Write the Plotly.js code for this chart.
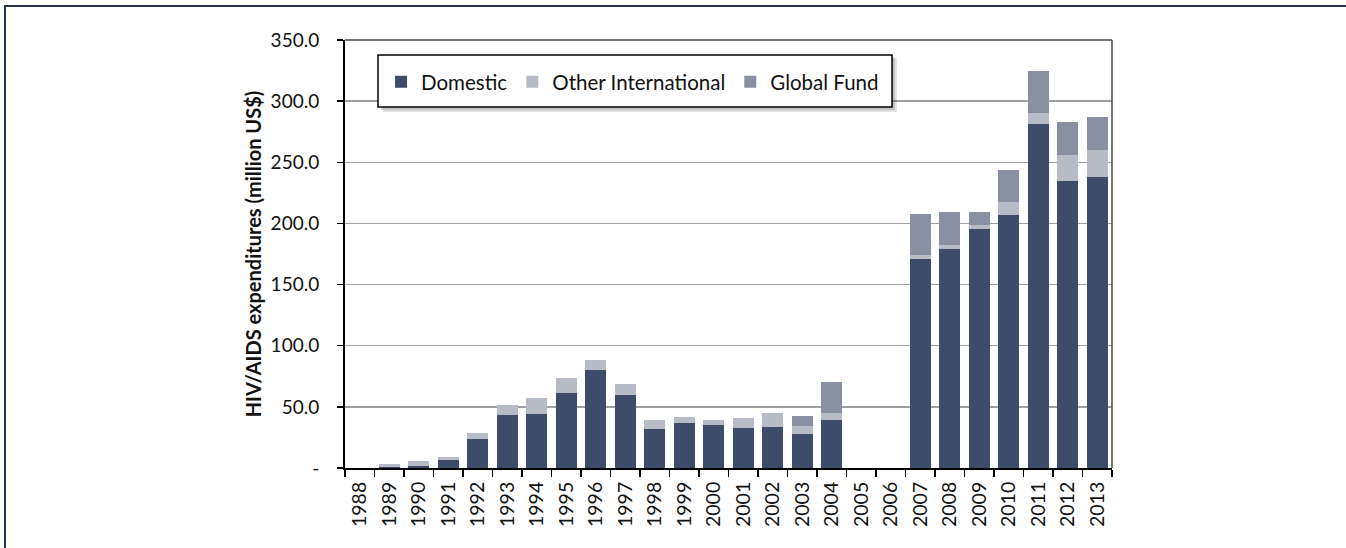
<!DOCTYPE html>
<html>
<head>
<meta charset="utf-8">
<script src="https://cdn.plot.ly/plotly-3.0.1.min.js"></script>
<style>
  html, body { margin: 0; padding: 0; background: #ffffff; }
  #wrap { position: relative; width: 1346px; height: 548px; overflow: hidden; }
  #frame { position: absolute; left: 4px; top: 5px; width: 1400px; height: 600px;
           border-left: 2px solid #24344F; border-top: 2px solid #24344F; box-sizing: border-box; pointer-events: none; }
  #chart { position: absolute; left: 0; top: 0; width: 1346px; height: 548px; }
</style>
</head>
<body>
<div id="wrap">
  <div id="chart"></div>
  <div id="frame"></div>
</div>
<script>
const years = ["1988","1989","1990","1991","1992","1993","1994","1995","1996","1997","1998","1999","2000",
               "2001","2002","2003","2004","2005","2006","2007","2008","2009","2010","2011","2012","2013"];
const domestic = [0, 0.5, 2, 6.5, 24, 43.5, 44.5, 61.5, 80.5, 60, 32, 37, 35.5,
                  32.7, 33.3, 28, 39.5, 0, 0, 171, 179, 195.7, 207, 281, 235, 238];
const otherInternational = [0, 3, 4, 2.5, 4.5, 8, 12.5, 12.5, 8, 9, 7, 5, 3.5,
                  8, 11.4, 6.5, 5.5, 0, 0, 3, 3.5, 3, 10.5, 9, 21, 22];
const globalFund = [0, 0, 0, 0, 0, 0, 0, 0, 0, 0, 0, 0, 0,
                  0, 0, 8, 25, 0, 0, 33.5, 27, 11, 26, 35, 27, 27];
const yTickVals = [0, 50, 100, 150, 200, 250, 300, 350];
const yTickText = ["-", "50.0", "100.0", "150.0", "200.0", "250.0", "300.0", "350.0"];

const FONT = "Lato, 'Open Sans', sans-serif";

const traces = [
  { type: "bar", name: "Domestic", x: years, y: domestic, marker: { color: "#3D4D69" } },
  { type: "bar", name: "Other International", x: years, y: otherInternational, marker: { color: "#B7BBC5" } },
  { type: "bar", name: "Global Fund", x: years, y: globalFund, marker: { color: "#8990A1" } }
];

const layout = {
  width: 1346, height: 548,
  paper_bgcolor: "rgba(0,0,0,0)", plot_bgcolor: "#ffffff",
  margin: { l: 345, r: 234, t: 40, b: 80, pad: 0 },
  barmode: "stack",
  bargap: 0.29,
  font: { family: FONT, color: "#111111" },
  showlegend: true,
  legend: {
    orientation: "h", x: 0.047, y: 0.902, xanchor: "left", yanchor: "middle",
    bgcolor: "rgba(0,0,0,0)", borderwidth: 0,
    font: { family: FONT, size: 20.5, color: "#111111" },
    traceorder: "normal"
  },
  xaxis: {
    type: "category",
    tickangle: -90,
    tickson: "boundaries",
    ticks: "outside", ticklen: 7, tickwidth: 1.5, tickcolor: "#000000",
    ticklabelstandoff: 4,
    showline: true, linecolor: "#000000", linewidth: 2,
    showgrid: false, zeroline: false,
    tickfont: { family: FONT, size: 19.5, color: "#111111" },
    fixedrange: true
  },
  yaxis: {
    range: [0, 350],
    tickvals: yTickVals, ticktext: yTickText,
    ticks: "outside", ticklen: 6, tickwidth: 1.5, tickcolor: "#000000",
    ticklabelstandoff: 14,
    showline: true, linecolor: "#000000", linewidth: 2,
    showgrid: true, gridcolor: "#9f9f9f", gridwidth: 1.5,
    zeroline: false,
    tickfont: { family: FONT, size: 19, color: "#111111" },
    title: { text: "<b>HIV/AIDS expenditures (million US$)</b>", font: { family: FONT, size: 20, color: "#111111" }, standoff: 4 },
    fixedrange: true
  },
  shapes: [
    { type: "line", xref: "paper", yref: "paper", x0: 0, x1: 1, y0: 1, y1: 1, line: { color: "#4a4a4a", width: 1.5 }, layer: "above" },
    { type: "line", xref: "paper", yref: "paper", x0: 1, x1: 1, y0: 0, y1: 1, line: { color: "#4a4a4a", width: 1.5 }, layer: "above" },
    { type: "rect", xref: "paper", yref: "paper", x0: 0.0495, x1: 0.7197, y0: 0.8315, y1: 0.9560, fillcolor: "rgba(0,0,0,0.10)", line: { width: 0 }, layer: "above" },
    { type: "rect", xref: "paper", yref: "paper", x0: 0.0470, x1: 0.7172, y0: 0.8360, y1: 0.9600, fillcolor: "rgba(0,0,0,0.15)", line: { width: 0 }, layer: "above" },
    { type: "rect", xref: "paper", yref: "paper", x0: 0.0430, x1: 0.7132, y0: 0.8435, y1: 0.9650, fillcolor: "#ffffff", line: { color: "#000000", width: 1.5 }, layer: "above" }
  ]
};

Plotly.newPlot("chart", traces, layout, { displayModeBar: false, staticPlot: true });
</script>
</body>
</html>
